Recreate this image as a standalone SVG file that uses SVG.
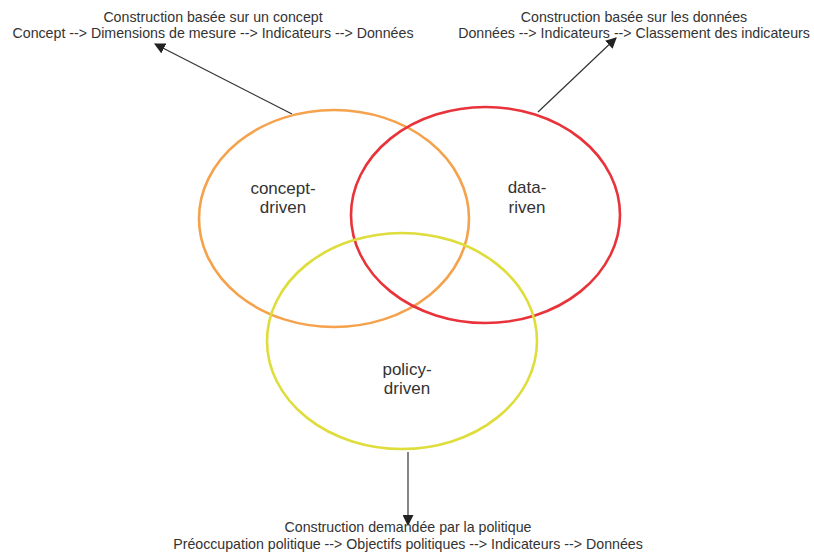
<svg xmlns="http://www.w3.org/2000/svg" width="814" height="554" viewBox="0 0 814 554">
<style>
text{font-family:"Liberation Sans",Arial,sans-serif;fill:#333;text-anchor:middle}
.cap{font-size:14.2px}
.lbl{font-size:17px}
.ring{fill:none;stroke-width:2.6}
.conn{stroke:#333;stroke-width:1.2;fill:none}
</style>
<defs>
<marker id="ah" viewBox="0 0 10 10" refX="9" refY="5" markerWidth="11" markerHeight="11" markerUnits="userSpaceOnUse" orient="auto">
<path d="M0,0 L10,5 L0,10 z" fill="#222"/>
</marker>
</defs>
<rect width="814" height="554" fill="#fff"/>
<g id="connectors">
<line class="conn" x1="292" y1="114" x2="155" y2="44" marker-end="url(#ah)"/>
<line class="conn" x1="538" y1="112" x2="616" y2="38" marker-end="url(#ah)"/>
<line class="conn" x1="408" y1="452" x2="408" y2="525" marker-end="url(#ah)"/>
</g>
<g id="concept-driven">
<ellipse class="ring" cx="334" cy="218.5" rx="135" ry="108.5" stroke="#f5a24c"/>
<text class="lbl" x="283" y="194">concept-</text>
<text class="lbl" x="283" y="213">driven</text>
</g>
<g id="data-driven">
<ellipse class="ring" cx="485.5" cy="215" rx="134.5" ry="108" stroke="#e8333a"/>
<text class="lbl" x="527" y="193">data-</text>
<text class="lbl" x="527" y="213">riven</text>
</g>
<g id="policy-driven">
<ellipse class="ring" cx="402" cy="341" rx="135" ry="108" stroke="#dedd3c"/>
<text class="lbl" x="407" y="375">policy-</text>
<text class="lbl" x="407" y="394">driven</text>
</g>
<g id="caption-concept">
<text class="cap" x="213" y="22">Construction basée sur un concept</text>
<text class="cap" x="213" y="38">Concept --&gt; Dimensions de mesure --&gt; Indicateurs --&gt; Données</text>
</g>
<g id="caption-data">
<text class="cap" x="634" y="22">Construction basée sur les données</text>
<text class="cap" x="634" y="38">Données --&gt; Indicateurs --&gt; Classement des indicateurs</text>
</g>
<g id="caption-policy">
<text class="cap" x="408" y="532">Construction demandée par la politique</text>
<text class="cap" x="408" y="549">Préoccupation politique --&gt; Objectifs politiques --&gt; Indicateurs --&gt; Données</text>
</g>
</svg>
